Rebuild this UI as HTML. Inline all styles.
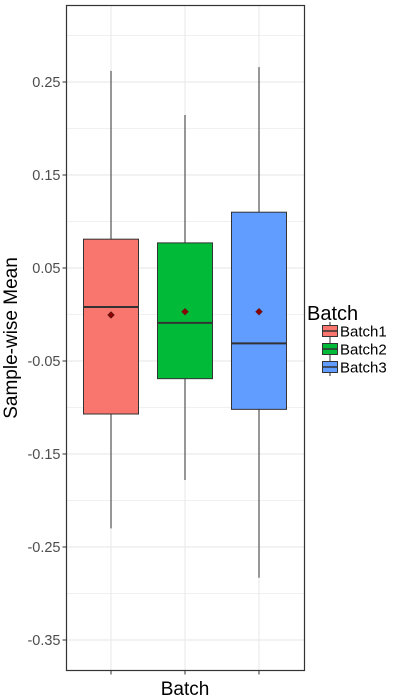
<!DOCTYPE html>
<html><head><meta charset="utf-8"><style>
body{margin:0;background:#fff;}
svg{display:block;font-family:"Liberation Sans",Arial,sans-serif;}
</style></head><body>
<svg id="chart" width="400" height="700"></svg>
<script>
const categories=["Batch1","Batch2","Batch3"];
const colors=["#F8766D","#00BA38","#619CFF"];
const whiskerHigh=[0.262,0.2145,0.266];
const q3=[0.081,0.077,0.110];
const medians=[0.008,-0.009,-0.031];
const means=[-0.0005,0.003,0.003];
const q1=[-0.107,-0.069,-0.102];
const whiskerLow=[-0.230,-0.178,-0.283];
const yTicks=[0.25,0.15,0.05,-0.05,-0.15,-0.25,-0.35];
const yMinor=[0.3,0.2,0.1,0,-0.1,-0.2,-0.3];

const NS="http://www.w3.org/2000/svg";
const svg=document.getElementById("chart");
const L=66.5,R=304.5,T=5.5,B=670.5;
function y(v){return 82+(0.25-v)*930;}
function x(i){return 111+i*74;}
function mk(tag,attrs,parent){const e=document.createElementNS(NS,tag);for(const k in attrs)e.setAttribute(k,attrs[k]);(parent||svg).appendChild(e);return e;}

let g,e;
yMinor.forEach(v=>{e=mk("line",{x1:L,x2:R,y1:y(v),y2:y(v),stroke:"#ebebeb","stroke-width":0.7});

});
yTicks.forEach(v=>{e=mk("line",{x1:L,x2:R,y1:y(v),y2:y(v),stroke:"#ebebeb","stroke-width":1.2});

});
categories.forEach((c,i)=>{e=mk("line",{x1:x(i),x2:x(i),y1:T,y2:B,stroke:"#ebebeb","stroke-width":1.2});

});

categories.forEach((c,i)=>{
 g=mk("g",{});
 
 
 const cx=x(i),hw=27.5;
 mk("line",{x1:cx,x2:cx,y1:y(whiskerHigh[i]),y2:y(q3[i]),stroke:"#333","stroke-width":1},g);
 mk("line",{x1:cx,x2:cx,y1:y(q1[i]),y2:y(whiskerLow[i]),stroke:"#333","stroke-width":1},g);
 mk("rect",{x:cx-hw,y:y(q3[i]),width:hw*2,height:y(q1[i])-y(q3[i]),fill:colors[i],stroke:"#333","stroke-width":1},g);
 mk("line",{x1:cx-hw,x2:cx+hw,y1:y(medians[i]),y2:y(medians[i]),stroke:"#333","stroke-width":2},g);
 const my=y(means[i]);
 mk("polygon",{points:`${cx},${my-3.5} ${cx+3.5},${my} ${cx},${my+3.5} ${cx-3.5},${my}`,fill:"#8B0000",stroke:"#333","stroke-width":0.5},g);
});

e=mk("rect",{x:L,y:T,width:R-L,height:B-T,fill:"none",stroke:"#333","stroke-width":1.2});



yTicks.forEach(v=>{
 mk("line",{x1:L-4,x2:L,y1:y(v),y2:y(v),stroke:"#333","stroke-width":1});
 e=mk("text",{x:L-6,y:y(v)+5,"text-anchor":"end","font-size":14.5,fill:"#4d4d4d"});
 e.textContent=v.toFixed(2);
 
 
});
categories.forEach((c,i)=>{mk("line",{x1:x(i),x2:x(i),y1:B,y2:B+4,stroke:"#333","stroke-width":1});});

e=mk("text",{x:185,y:695,"text-anchor":"middle","font-size":19,fill:"#000"});
e.textContent="Batch";


e=mk("text",{x:0,y:0,transform:"translate(17,338) rotate(-90)","text-anchor":"middle","font-size":19,fill:"#000"});
e.textContent="Sample-wise Mean";



e=mk("text",{x:307,y:320,"font-size":20,fill:"#000"});
e.textContent="Batch";


categories.forEach((c,i)=>{
 g=mk("g",{});
 
 
 const ky=331+i*18;
 mk("line",{x1:330,x2:330,y1:ky-9,y2:ky+9,stroke:"#333","stroke-width":1},g);
 mk("rect",{x:322.5,y:ky-5.5,width:15,height:11,fill:colors[i],stroke:"#333","stroke-width":1},g);
 mk("line",{x1:322.5,x2:337.5,y1:ky,y2:ky,stroke:"#333","stroke-width":1.5},g);
 const t=mk("text",{x:340,y:ky+5.5,"font-size":15,fill:"#000"},g);
 t.textContent=c;
});
</script>
</body></html>
